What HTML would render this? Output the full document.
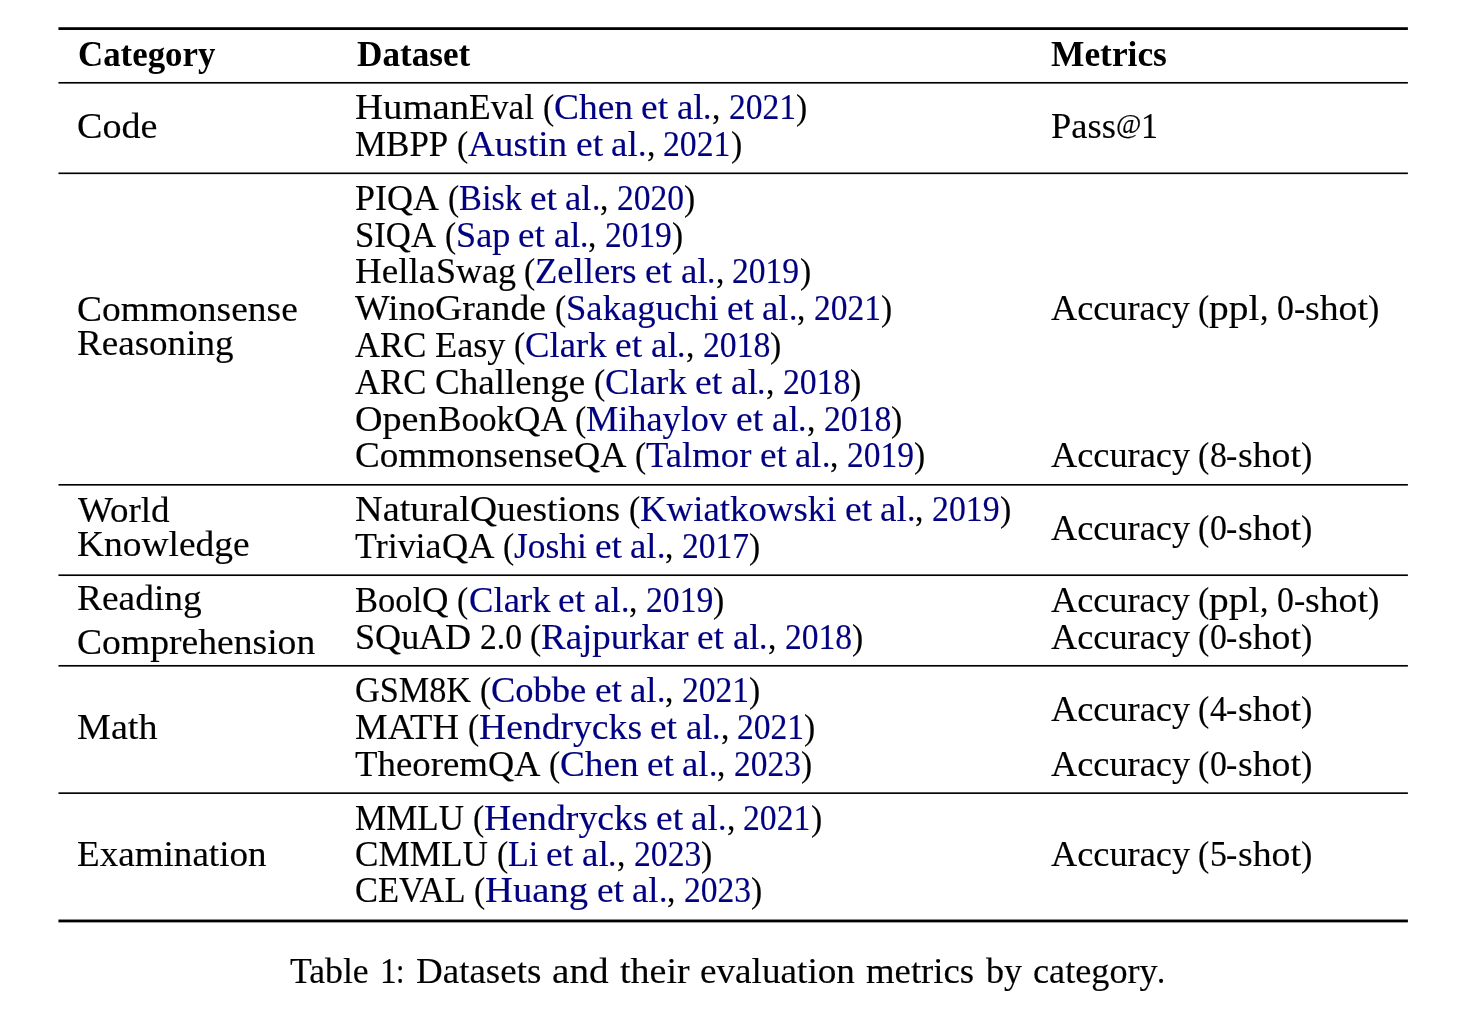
<!DOCTYPE html>
<html lang="en">
<head>
<meta charset="utf-8">
<title>Table 1: Datasets and their evaluation metrics by category</title>
<style>
html,body{margin:0;padding:0;background:#fff;}
#page{position:relative;width:1474px;height:1026px;overflow:hidden;background:#fff;color:#000;
  font-family:"Liberation Serif",serif;font-size:35px;line-height:40px;}
.rules{position:absolute;left:0;top:0;display:block;}
.t{position:absolute;white-space:pre;height:40px;}
.t>span{position:absolute;top:0;transform-origin:0 0;-webkit-text-stroke:0.15px currentColor;}
.hd{font-weight:bold;}
.hd>span{-webkit-text-stroke:0;}
.c{color:#000080;}
.at{font-size:.8em;position:relative;top:-4.6px;}
</style>
</head>
<body>
<div id="page">
<svg class="rules" width="1474" height="1026" viewBox="0 0 1474 1026" aria-hidden="true">
<rect x="58.45" y="27.23" width="1349.45" height="2.75" fill="#000"/>
<rect x="58.45" y="81.97" width="1349.45" height="1.65" fill="#000"/>
<rect x="58.45" y="172.48" width="1349.45" height="1.65" fill="#000"/>
<rect x="58.45" y="483.98" width="1349.45" height="1.65" fill="#000"/>
<rect x="58.45" y="574.38" width="1349.45" height="1.65" fill="#000"/>
<rect x="58.45" y="664.97" width="1349.45" height="1.65" fill="#000"/>
<rect x="58.45" y="792.32" width="1349.45" height="1.65" fill="#000"/>
<rect x="58.45" y="919.53" width="1349.45" height="2.85" fill="#000"/>
</svg>
<div class="t hd" id="t0" style="left:77.50px;top:35px"><span style="left:0.00px;transform:scaleX(0.9955)">Category</span></div>
<div class="t hd" id="t1" style="left:356.90px;top:35px"><span style="left:0.00px;transform:scaleX(1.0050)">Dataset</span></div>
<div class="t hd" id="t2" style="left:1050.80px;top:35px"><span style="left:0.00px;transform:scaleX(1.0108)">Metrics</span></div>
<div class="t" id="t3" style="left:355.30px;top:88px"><span style="left:0.00px;transform:scaleX(1.1082)">Human</span><span style="left:114.18px;transform:scaleX(1.0141)">Eval</span> <span style="left:187.62px;transform:scaleX(0.9594)">(</span><span class="c" style="left:198.81px;transform:scaleX(1.0691)">Chen</span> <span class="c" style="left:286.19px;transform:scaleX(1.0702)">et</span> <span class="c" style="left:321.61px;transform:scaleX(1.0517)">al</span><span class="c" style="left:348.18px;transform:scaleX(0.9595)">.</span><span style="left:356.58px;transform:scaleX(0.9595)">,</span> <span class="c" style="left:373.36px;transform:scaleX(0.9595)">2021</span><span style="left:440.53px;transform:scaleX(0.9594)">)</span></div>
<div class="t" id="t4" style="left:355.30px;top:125px"><span style="left:0.00px;transform:scaleX(0.9988)">MBPP</span> <span style="left:101.72px;transform:scaleX(0.9639)">(</span><span class="c" style="left:112.96px;transform:scaleX(1.0626)">Austin</span> <span class="c" style="left:220.58px;transform:scaleX(1.0752)">et</span> <span class="c" style="left:256.18px;transform:scaleX(1.0566)">al</span><span class="c" style="left:282.87px;transform:scaleX(0.9640)">.</span><span style="left:291.30px;transform:scaleX(0.9640)">,</span> <span class="c" style="left:308.16px;transform:scaleX(0.9640)">2021</span><span style="left:375.64px;transform:scaleX(0.9639)">)</span></div>
<div class="t" id="t5" style="left:77.30px;top:107px"><span style="left:0.00px;transform:scaleX(1.0892)">Code</span></div>
<div class="t" id="t6" style="left:1050.80px;top:107px"><span style="left:0.00px;transform:scaleX(1.0424)">Pass</span><span style="left:64.89px;transform:scaleX(0.9831)"><span class="at">@</span></span><span style="left:90.24px;transform:scaleX(0.9696)">1</span></div>
<div class="t" id="t7" style="left:355.30px;top:179px"><span style="left:0.00px;transform:scaleX(1.0280)">PIQA</span> <span style="left:92.34px;transform:scaleX(0.9575)">(</span><span class="c" style="left:103.50px;transform:scaleX(0.9806)">Bisk</span> <span class="c" style="left:174.83px;transform:scaleX(1.0682)">et</span> <span class="c" style="left:210.19px;transform:scaleX(1.0497)">al</span><span class="c" style="left:236.70px;transform:scaleX(0.9577)">.</span><span style="left:245.08px;transform:scaleX(0.9577)">,</span> <span class="c" style="left:261.83px;transform:scaleX(0.9577)">2020</span><span style="left:328.87px;transform:scaleX(0.9576)">)</span></div>
<div class="t" id="t8" style="left:355.30px;top:216px"><span style="left:0.00px;transform:scaleX(0.9921)">SIQA</span> <span style="left:89.38px;transform:scaleX(0.9542)">(</span><span class="c" style="left:100.51px;transform:scaleX(1.0345)">Sap</span> <span class="c" style="left:163.16px;transform:scaleX(1.0644)">et</span> <span class="c" style="left:198.40px;transform:scaleX(1.0461)">al</span><span class="c" style="left:224.82px;transform:scaleX(0.9543)">.</span><span style="left:233.17px;transform:scaleX(0.9543)">,</span> <span class="c" style="left:249.87px;transform:scaleX(0.9543)">2019</span><span style="left:316.67px;transform:scaleX(0.9542)">)</span></div>
<div class="t" id="t9" style="left:355.30px;top:252px"><span style="left:0.00px;transform:scaleX(1.0599)">Hella</span><span style="left:80.33px;transform:scaleX(1.0294)">Swag</span> <span style="left:168.79px;transform:scaleX(0.9590)">(</span><span class="c" style="left:179.97px;transform:scaleX(1.0453)">Zellers</span> <span class="c" style="left:289.93px;transform:scaleX(1.0698)">et</span> <span class="c" style="left:325.34px;transform:scaleX(1.0513)">al</span><span class="c" style="left:351.90px;transform:scaleX(0.9591)">.</span><span style="left:360.29px;transform:scaleX(0.9591)">,</span> <span class="c" style="left:377.07px;transform:scaleX(0.9591)">2019</span><span style="left:444.21px;transform:scaleX(0.9590)">)</span></div>
<div class="t" id="t10" style="left:355.30px;top:289px"><span style="left:0.00px;transform:scaleX(1.0488)">Wino</span><span style="left:80.09px;transform:scaleX(1.0785)">Grande</span> <span style="left:199.55px;transform:scaleX(0.9573)">(</span><span class="c" style="left:210.71px;transform:scaleX(1.0465)">Sakaguchi</span> <span class="c" style="left:371.65px;transform:scaleX(1.0679)">et</span> <span class="c" style="left:407.00px;transform:scaleX(1.0495)">al</span><span class="c" style="left:433.51px;transform:scaleX(0.9574)">.</span><span style="left:441.89px;transform:scaleX(0.9574)">,</span> <span class="c" style="left:458.64px;transform:scaleX(0.9574)">2021</span><span style="left:525.66px;transform:scaleX(0.9573)">)</span></div>
<div class="t" id="t11" style="left:355.30px;top:326px"><span style="left:0.00px;transform:scaleX(0.9904)">ARC</span> <span style="left:79.70px;transform:scaleX(1.0358)">Easy</span> <span style="left:158.59px;transform:scaleX(0.9627)">(</span><span class="c" style="left:169.81px;transform:scaleX(1.0492)">Clark</span> <span class="c" style="left:259.82px;transform:scaleX(1.0740)">et</span> <span class="c" style="left:295.37px;transform:scaleX(1.0554)">al</span><span class="c" style="left:322.03px;transform:scaleX(0.9628)">.</span><span style="left:330.46px;transform:scaleX(0.9628)">,</span> <span class="c" style="left:347.30px;transform:scaleX(0.9628)">2018</span><span style="left:414.70px;transform:scaleX(0.9628)">)</span></div>
<div class="t" id="t12" style="left:355.30px;top:363px"><span style="left:0.00px;transform:scaleX(0.9914)">ARC</span> <span style="left:79.78px;transform:scaleX(1.0578)">Challenge</span> <span style="left:238.31px;transform:scaleX(0.9637)">(</span><span class="c" style="left:249.54px;transform:scaleX(1.0503)">Clark</span> <span class="c" style="left:339.65px;transform:scaleX(1.0751)">et</span> <span class="c" style="left:375.24px;transform:scaleX(1.0565)">al</span><span class="c" style="left:401.93px;transform:scaleX(0.9639)">.</span><span style="left:410.36px;transform:scaleX(0.9639)">,</span> <span class="c" style="left:427.22px;transform:scaleX(0.9639)">2018</span><span style="left:494.69px;transform:scaleX(0.9638)">)</span></div>
<div class="t" id="t13" style="left:355.30px;top:400px"><span style="left:0.00px;transform:scaleX(1.0891)">Open</span><span style="left:82.57px;transform:scaleX(1.0046)">Book</span><span style="left:158.77px;transform:scaleX(1.0435)">QA</span> <span style="left:219.95px;transform:scaleX(0.9636)">(</span><span class="c" style="left:231.18px;transform:scaleX(1.0366)">Mihaylov</span> <span class="c" style="left:380.70px;transform:scaleX(1.0749)">et</span> <span class="c" style="left:416.28px;transform:scaleX(1.0563)">al</span><span class="c" style="left:442.96px;transform:scaleX(0.9637)">.</span><span style="left:451.39px;transform:scaleX(0.9637)">,</span> <span class="c" style="left:468.26px;transform:scaleX(0.9637)">2018</span><span style="left:535.71px;transform:scaleX(0.9636)">)</span></div>
<div class="t" id="t14" style="left:355.30px;top:436px"><span style="left:0.00px;transform:scaleX(1.0618)">Commonsense</span><span style="left:218.85px;transform:scaleX(1.0358)">QA</span> <span style="left:279.58px;transform:scaleX(0.9564)">(</span><span class="c" style="left:290.73px;transform:scaleX(1.0479)">Talmor</span> <span class="c" style="left:404.48px;transform:scaleX(1.0669)">et</span> <span class="c" style="left:439.79px;transform:scaleX(1.0485)">al</span><span class="c" style="left:466.28px;transform:scaleX(0.9565)">.</span><span style="left:474.65px;transform:scaleX(0.9565)">,</span> <span class="c" style="left:491.38px;transform:scaleX(0.9565)">2019</span><span style="left:558.34px;transform:scaleX(0.9564)">)</span></div>
<div class="t" id="t15" style="left:77.30px;top:290px"><span style="left:0.00px;transform:scaleX(1.0715)">Commonsense</span></div>
<div class="t" id="t16" style="left:77.30px;top:324px"><span style="left:0.00px;transform:scaleX(1.0592)">Reasoning</span></div>
<div class="t" id="t17" style="left:1050.80px;top:289px"><span style="left:0.00px;transform:scaleX(1.0359)">Accuracy</span> <span style="left:147.32px;transform:scaleX(0.9643)">(</span><span style="left:158.56px;transform:scaleX(1.1268)">ppl</span><span style="left:208.96px;transform:scaleX(0.9644)">,</span> <span style="left:225.84px;transform:scaleX(0.9644)">0</span><span style="left:242.71px;transform:scaleX(0.9644)">-</span><span style="left:253.96px;transform:scaleX(1.0778)">shot</span><span style="left:316.85px;transform:scaleX(0.9643)">)</span></div>
<div class="t" id="t18" style="left:1050.80px;top:436px"><span style="left:0.00px;transform:scaleX(1.0373)">Accuracy</span> <span style="left:147.52px;transform:scaleX(0.9657)">(</span><span style="left:158.78px;transform:scaleX(0.9658)">8</span><span style="left:175.68px;transform:scaleX(0.9658)">-</span><span style="left:186.94px;transform:scaleX(1.0794)">shot</span><span style="left:249.92px;transform:scaleX(0.9657)">)</span></div>
<div class="t" id="t19" style="left:355.30px;top:490px"><span style="left:0.00px;transform:scaleX(1.0943)">Natural</span><span style="left:114.85px;transform:scaleX(1.0714)">Questions</span> <span style="left:273.29px;transform:scaleX(0.9647)">(</span><span class="c" style="left:284.53px;transform:scaleX(1.0521)">Kwiatkowski</span> <span class="c" style="left:489.36px;transform:scaleX(1.0761)">et</span> <span class="c" style="left:524.98px;transform:scaleX(1.0575)">al</span><span class="c" style="left:551.70px;transform:scaleX(0.9648)">.</span><span style="left:560.14px;transform:scaleX(0.9648)">,</span> <span class="c" style="left:577.02px;transform:scaleX(0.9648)">2019</span><span style="left:644.56px;transform:scaleX(0.9647)">)</span></div>
<div class="t" id="t20" style="left:355.30px;top:527px"><span style="left:0.00px;transform:scaleX(1.0266)">Trivia</span><span style="left:86.53px;transform:scaleX(1.0369)">QA</span> <span style="left:147.32px;transform:scaleX(0.9574)">(</span><span class="c" style="left:158.49px;transform:scaleX(1.0114)">Joshi</span> <span class="c" style="left:239.65px;transform:scaleX(1.0680)">et</span> <span class="c" style="left:275.00px;transform:scaleX(1.0496)">al</span><span class="c" style="left:301.51px;transform:scaleX(0.9575)">.</span><span style="left:309.89px;transform:scaleX(0.9575)">,</span> <span class="c" style="left:326.64px;transform:scaleX(0.9575)">2017</span><span style="left:393.67px;transform:scaleX(0.9574)">)</span></div>
<div class="t" id="t21" style="left:78.00px;top:491px"><span style="left:0.00px;transform:scaleX(1.0572)">World</span></div>
<div class="t" id="t22" style="left:77.30px;top:525px"><span style="left:0.00px;transform:scaleX(1.0703)">Knowledge</span></div>
<div class="t" id="t23" style="left:1050.80px;top:509px"><span style="left:0.00px;transform:scaleX(1.0373)">Accuracy</span> <span style="left:147.52px;transform:scaleX(0.9657)">(</span><span style="left:158.78px;transform:scaleX(0.9658)">0</span><span style="left:175.68px;transform:scaleX(0.9658)">-</span><span style="left:186.94px;transform:scaleX(1.0794)">shot</span><span style="left:249.92px;transform:scaleX(0.9657)">)</span></div>
<div class="t" id="t24" style="left:355.30px;top:581px"><span style="left:0.00px;transform:scaleX(0.9861)">Bool</span><span style="left:67.12px;transform:scaleX(1.0469)">Q</span> <span style="left:102.00px;transform:scaleX(0.9617)">(</span><span class="c" style="left:113.21px;transform:scaleX(1.0481)">Clark</span> <span class="c" style="left:203.12px;transform:scaleX(1.0728)">et</span> <span class="c" style="left:238.64px;transform:scaleX(1.0543)">al</span><span class="c" style="left:265.27px;transform:scaleX(0.9618)">.</span><span style="left:273.68px;transform:scaleX(0.9618)">,</span> <span class="c" style="left:290.51px;transform:scaleX(0.9618)">2019</span><span style="left:357.84px;transform:scaleX(0.9617)">)</span></div>
<div class="t" id="t25" style="left:355.30px;top:618px"><span style="left:0.00px;transform:scaleX(1.0314)">SQu</span><span style="left:64.20px;transform:scaleX(1.0298)">AD</span> <span style="left:124.64px;transform:scaleX(0.9583)">2.0</span> <span style="left:174.95px;transform:scaleX(0.9583)">(</span><span class="c" style="left:186.13px;transform:scaleX(1.0550)">Rajpurkar</span> <span class="c" style="left:342.16px;transform:scaleX(1.0689)">et</span> <span class="c" style="left:377.54px;transform:scaleX(1.0505)">al</span><span class="c" style="left:404.08px;transform:scaleX(0.9583)">.</span><span style="left:412.46px;transform:scaleX(0.9583)">,</span> <span class="c" style="left:429.23px;transform:scaleX(0.9583)">2018</span><span style="left:496.31px;transform:scaleX(0.9583)">)</span></div>
<div class="t" id="t26" style="left:77.30px;top:579px"><span style="left:0.00px;transform:scaleX(1.0692)">Reading</span></div>
<div class="t" id="t27" style="left:77.30px;top:623px"><span style="left:0.00px;transform:scaleX(1.0748)">Comprehension</span></div>
<div class="t" id="t28" style="left:1050.80px;top:581px"><span style="left:0.00px;transform:scaleX(1.0359)">Accuracy</span> <span style="left:147.32px;transform:scaleX(0.9643)">(</span><span style="left:158.56px;transform:scaleX(1.1268)">ppl</span><span style="left:208.96px;transform:scaleX(0.9644)">,</span> <span style="left:225.84px;transform:scaleX(0.9644)">0</span><span style="left:242.71px;transform:scaleX(0.9644)">-</span><span style="left:253.96px;transform:scaleX(1.0778)">shot</span><span style="left:316.85px;transform:scaleX(0.9643)">)</span></div>
<div class="t" id="t29" style="left:1050.80px;top:618px"><span style="left:0.00px;transform:scaleX(1.0373)">Accuracy</span> <span style="left:147.52px;transform:scaleX(0.9657)">(</span><span style="left:158.78px;transform:scaleX(0.9658)">0</span><span style="left:175.68px;transform:scaleX(0.9658)">-</span><span style="left:186.94px;transform:scaleX(1.0794)">shot</span><span style="left:249.92px;transform:scaleX(0.9657)">)</span></div>
<div class="t" id="t30" style="left:355.30px;top:671px"><span style="left:0.00px;transform:scaleX(0.9786)">GSM8K</span> <span style="left:124.49px;transform:scaleX(0.9587)">(</span><span class="c" style="left:135.67px;transform:scaleX(1.0429)">Cobbe</span> <span class="c" style="left:239.35px;transform:scaleX(1.0694)">et</span> <span class="c" style="left:274.75px;transform:scaleX(1.0509)">al</span><span class="c" style="left:301.30px;transform:scaleX(0.9588)">.</span><span style="left:309.69px;transform:scaleX(0.9588)">,</span> <span class="c" style="left:326.46px;transform:scaleX(0.9588)">2021</span><span style="left:393.57px;transform:scaleX(0.9587)">)</span></div>
<div class="t" id="t31" style="left:355.30px;top:708px"><span style="left:0.00px;transform:scaleX(1.0485)">MATH</span> <span style="left:112.37px;transform:scaleX(0.9585)">(</span><span class="c" style="left:123.54px;transform:scaleX(1.0752)">Hendrycks</span> <span class="c" style="left:294.96px;transform:scaleX(1.0693)">et</span> <span class="c" style="left:330.36px;transform:scaleX(1.0508)">al</span><span class="c" style="left:356.90px;transform:scaleX(0.9587)">.</span><span style="left:365.29px;transform:scaleX(0.9587)">,</span> <span class="c" style="left:382.06px;transform:scaleX(0.9587)">2021</span><span style="left:449.16px;transform:scaleX(0.9586)">)</span></div>
<div class="t" id="t32" style="left:355.30px;top:745px"><span style="left:0.00px;transform:scaleX(1.0524)">Theorem</span><span style="left:132.94px;transform:scaleX(1.0342)">QA</span> <span style="left:193.58px;transform:scaleX(0.9550)">(</span><span class="c" style="left:204.72px;transform:scaleX(1.0642)">Chen</span> <span class="c" style="left:291.69px;transform:scaleX(1.0653)">et</span> <span class="c" style="left:326.95px;transform:scaleX(1.0469)">al</span><span class="c" style="left:353.40px;transform:scaleX(0.9551)">.</span><span style="left:361.76px;transform:scaleX(0.9551)">,</span> <span class="c" style="left:378.46px;transform:scaleX(0.9551)">2023</span><span style="left:445.32px;transform:scaleX(0.9550)">)</span></div>
<div class="t" id="t33" style="left:77.30px;top:708px"><span style="left:0.00px;transform:scaleX(1.0889)">Math</span></div>
<div class="t" id="t34" style="left:1050.80px;top:690px"><span style="left:0.00px;transform:scaleX(1.0373)">Accuracy</span> <span style="left:147.52px;transform:scaleX(0.9657)">(</span><span style="left:158.78px;transform:scaleX(0.9658)">4</span><span style="left:175.68px;transform:scaleX(0.9658)">-</span><span style="left:186.94px;transform:scaleX(1.0794)">shot</span><span style="left:249.92px;transform:scaleX(0.9657)">)</span></div>
<div class="t" id="t35" style="left:1050.80px;top:745px"><span style="left:0.00px;transform:scaleX(1.0373)">Accuracy</span> <span style="left:147.52px;transform:scaleX(0.9657)">(</span><span style="left:158.78px;transform:scaleX(0.9658)">0</span><span style="left:175.68px;transform:scaleX(0.9658)">-</span><span style="left:186.94px;transform:scaleX(1.0794)">shot</span><span style="left:249.92px;transform:scaleX(0.9657)">)</span></div>
<div class="t" id="t36" style="left:355.30px;top:799px"><span style="left:0.00px;transform:scaleX(1.0007)">MMLU</span> <span style="left:117.39px;transform:scaleX(0.9620)">(</span><span class="c" style="left:128.60px;transform:scaleX(1.0791)">Hendrycks</span> <span class="c" style="left:300.64px;transform:scaleX(1.0731)">et</span> <span class="c" style="left:336.16px;transform:scaleX(1.0546)">al</span><span class="c" style="left:362.80px;transform:scaleX(0.9621)">.</span><span style="left:371.22px;transform:scaleX(0.9621)">,</span> <span class="c" style="left:388.04px;transform:scaleX(0.9621)">2021</span><span style="left:455.39px;transform:scaleX(0.9620)">)</span></div>
<div class="t" id="t37" style="left:355.30px;top:835px"><span style="left:0.00px;transform:scaleX(1.0042)">CMMLU</span> <span style="left:141.21px;transform:scaleX(0.9615)">(</span><span class="c" style="left:152.42px;transform:scaleX(0.9718)">Li</span> <span class="c" style="left:191.06px;transform:scaleX(1.0727)">et</span> <span class="c" style="left:226.57px;transform:scaleX(1.0542)">al</span><span class="c" style="left:253.20px;transform:scaleX(0.9618)">.</span><span style="left:261.62px;transform:scaleX(0.9618)">,</span> <span class="c" style="left:278.44px;transform:scaleX(0.9618)">2023</span><span style="left:345.76px;transform:scaleX(0.9617)">)</span></div>
<div class="t" id="t38" style="left:355.30px;top:871px"><span style="left:0.00px;transform:scaleX(0.9848)">CEVAL</span> <span style="left:118.83px;transform:scaleX(0.9587)">(</span><span class="c" style="left:130.01px;transform:scaleX(1.1052)">Huang</span> <span class="c" style="left:241.52px;transform:scaleX(1.0695)">et</span> <span class="c" style="left:276.92px;transform:scaleX(1.0510)">al</span><span class="c" style="left:303.47px;transform:scaleX(0.9588)">.</span><span style="left:311.86px;transform:scaleX(0.9588)">,</span> <span class="c" style="left:328.63px;transform:scaleX(0.9588)">2023</span><span style="left:395.75px;transform:scaleX(0.9587)">)</span></div>
<div class="t" id="t39" style="left:77.30px;top:835px"><span style="left:0.00px;transform:scaleX(1.0599)">Examination</span></div>
<div class="t" id="t40" style="left:1050.80px;top:835px"><span style="left:0.00px;transform:scaleX(1.0373)">Accuracy</span> <span style="left:147.52px;transform:scaleX(0.9657)">(</span><span style="left:158.78px;transform:scaleX(0.9658)">5</span><span style="left:175.68px;transform:scaleX(0.9658)">-</span><span style="left:186.94px;transform:scaleX(1.0794)">shot</span><span style="left:249.92px;transform:scaleX(0.9657)">)</span></div>
<div class="t cap" id="t41" style="left:289.90px;top:952px"><span style="left:0.00px;transform:scaleX(1.0188)">Table</span> <span style="left:89.76px;transform:scaleX(0.9541)">1</span><span style="left:106.46px;transform:scaleX(0.8581)">:</span> <span style="left:125.89px;transform:scaleX(1.0570)">Datasets</span> <span style="left:262.29px;transform:scaleX(1.1188)">and</span> <span style="left:329.91px;transform:scaleX(1.0850)">their</span> <span style="left:410.58px;transform:scaleX(1.0627)">evaluation</span> <span style="left:576.57px;transform:scaleX(1.0496)">metrics</span> <span style="left:695.79px;transform:scaleX(1.0295)">by</span> <span style="left:742.90px;transform:scaleX(1.0345)">category</span><span style="left:867.54px;transform:scaleX(0.9330)">.</span></div>
</div>
</body>
</html>
